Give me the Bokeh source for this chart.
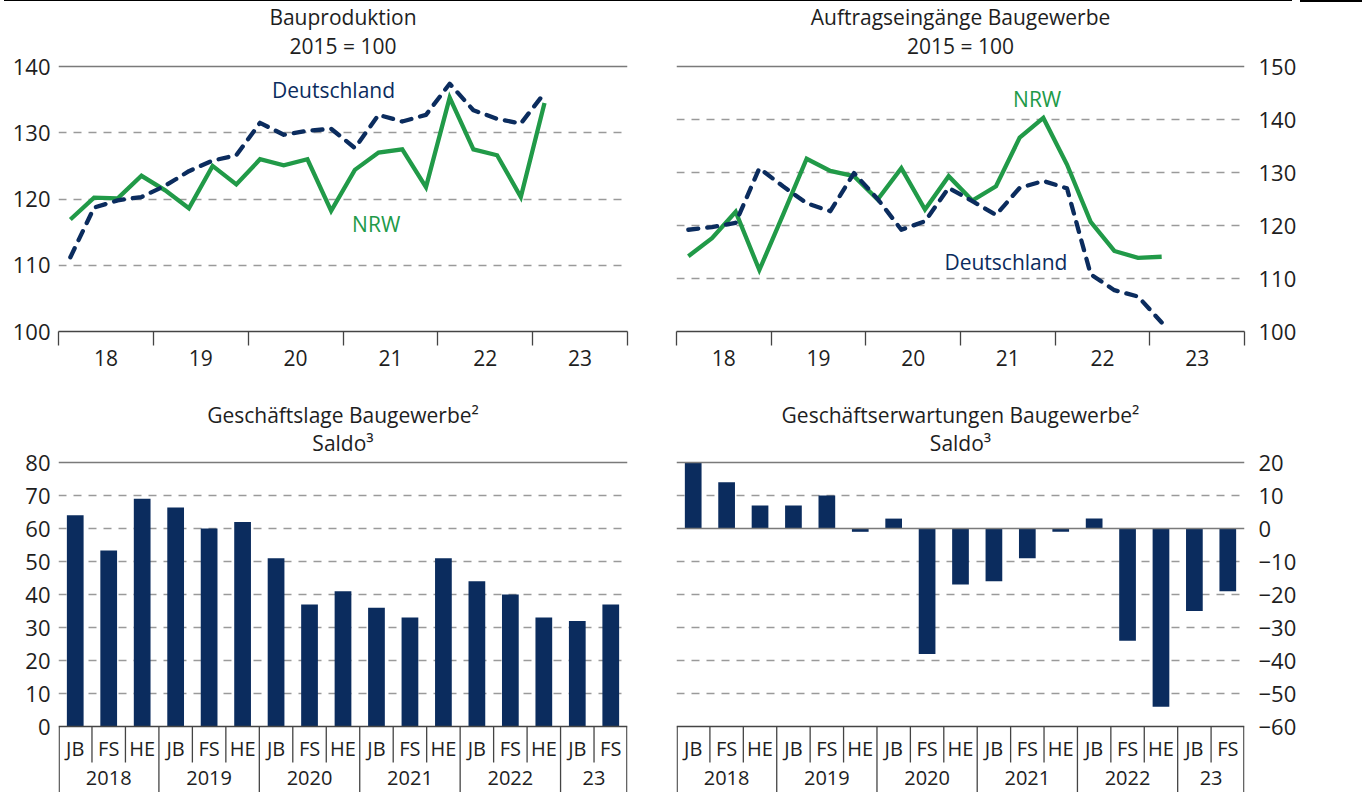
from bokeh.plotting import figure
from bokeh.models import FixedTicker, Span, Title, Div, Range1d
from bokeh.layouts import column, row
from bokeh.embed import file_html
from bokeh.resources import INLINE
from bokeh.core.properties import value

# ---------------- data ----------------
quarters = ["2018Q1", "2018Q2", "2018Q3", "2018Q4",
            "2019Q1", "2019Q2", "2019Q3", "2019Q4",
            "2020Q1", "2020Q2", "2020Q3", "2020Q4",
            "2021Q1", "2021Q2", "2021Q3", "2021Q4",
            "2022Q1", "2022Q2", "2022Q3", "2022Q4",
            "2023Q1"]
year_ticks = [18, 19, 20, 21, 22, 23]

bau_nrw = [116.9, 120.2, 120.1, 123.5, 121.3, 118.6, 125.0, 122.2, 126.0, 125.1,
           126.0, 118.2, 124.4, 127.0, 127.5, 121.8, 135.3, 127.5, 126.6, 120.3, 134.5]
bau_de = [111.2, 118.7, 119.8, 120.3, 122.0, 124.2, 125.8, 126.6, 131.5, 129.7,
          130.3, 130.6, 127.7, 132.7, 131.7, 132.7, 137.4, 133.4, 132.1, 131.4, 136.0]

auf_nrw = [114.2, 117.6, 122.6, 111.6, 122.0, 132.6, 130.3, 129.3, 124.9, 130.8,
           123.0, 129.3, 124.7, 127.4, 136.6, 140.3, 131.5, 120.7, 115.2, 113.9, 114.1]
auf_de = [119.2, 119.7, 120.5, 130.8, 127.4, 124.2, 122.7, 129.9, 125.0, 119.2,
          120.8, 127.1, 124.6, 122.0, 127.1, 128.4, 127.0, 110.8, 107.8, 106.6, 101.7]

periods = ["JB", "FS", "HE", "JB", "FS", "HE", "JB", "FS", "HE",
           "JB", "FS", "HE", "JB", "FS", "HE", "JB", "FS"]
period_years = ["2018", "2018", "2018", "2019", "2019", "2019", "2020", "2020", "2020",
                "2021", "2021", "2021", "2022", "2022", "2022", "23", "23"]

lage = [64, 53.3, 69, 66.4, 60, 62, 51, 37, 41, 36, 33, 51, 44, 40, 33, 32, 37]
erwartung = [20, 14, 7, 7, 10, -1, 3, -38, -17, -16, -9, -1, 3, -34, -54, -25, -19]

# ---------------- style ----------------
FONT = "Open Sans"
NAVY = "#0b2c5e"
GREEN = "#219a48"
TXT = "#1e1e1e"
GRID = "#9a9a9a"
SOLID = "#7a7a7a"
AX = "#444444"


def qx(q):
    yr = int(q[:4]) - 2000
    n = int(q[-1])
    return yr - 0.5 + (n - 0.5) / 4


def add_titles(p, t1, t2, s2, s1):
    p.add_layout(Title(text=t2, align="center", text_font=FONT, text_font_size="21px",
                       text_font_style="normal", text_color=TXT, standoff=s2), "above")
    top = Title(text=t1, align="center", text_font=FONT, text_font_size="21px",
                text_font_style="normal", text_color=TXT, standoff=0)
    try:
        top.standoff = s1
    except Exception:
        top.standoff = 0
    p.add_layout(top, "above")


def style_yaxis(p, side):
    ya = p.yaxis[0]
    ya.axis_line_color = None
    ya.major_tick_line_color = None
    ya.major_tick_out = 0
    ya.major_tick_in = 0
    ya.minor_tick_line_color = None
    ya.minor_tick_out = 0
    ya.major_label_text_font = FONT
    ya.major_label_text_font_size = "22px"
    ya.major_label_text_color = TXT
    ya.major_label_standoff = 8 if side == "left" else 14
    return ya


FH_TOP = 267


def line_fig(t1, t2, ylo, yhi, gridticks, side, nrw, de, de_lab, nrw_lab, left_b, right_b, fw):
    upp = (yhi - ylo) / (FH_TOP - 2.0)
    p = figure(frame_width=fw, frame_height=FH_TOP,
               x_range=Range1d(17.5, 23.5), y_range=Range1d(ylo, yhi + 2 * upp),
               output_backend="svg", toolbar_location=None, title=None,
               y_axis_location=side, min_border_left=left_b, min_border_right=right_b,
               min_border_top=62, min_border_bottom=46)
    p.outline_line_color = None
    add_titles(p, t1, t2, 9, -11)

    xa = p.xaxis[0]
    xa.ticker = FixedTicker(ticks=year_ticks,
                            minor_ticks=[v - 0.5 for v in year_ticks] + [year_ticks[-1] + 0.5])
    xa.major_tick_line_color = None
    xa.major_tick_out = 14
    xa.major_tick_in = 0
    xa.minor_tick_line_color = AX
    xa.minor_tick_line_width = 1.3
    xa.minor_tick_out = 14
    xa.minor_tick_in = 0
    xa.axis_line_color = AX
    xa.axis_line_width = 1.3
    xa.major_label_text_font = FONT
    xa.major_label_text_font_size = "21px"
    xa.major_label_text_color = TXT
    xa.major_label_standoff = 4

    ya = style_yaxis(p, side)
    ya.ticker = FixedTicker(ticks=list(range(int(ylo), int(yhi) + 1, 10)))

    p.xgrid.grid_line_color = None
    p.ygrid.ticker = FixedTicker(ticks=gridticks)
    p.ygrid.grid_line_color = GRID
    p.ygrid.grid_line_dash = "8 7"
    p.ygrid.grid_line_width = 1.3
    p.add_layout(Span(location=yhi, dimension="width", line_color=SOLID, line_width=1.3))

    xs = [qx(q) for q in quarters]
    p.line(xs, nrw, line_color=GREEN, line_width=4.3, line_join="miter")
    p.line(xs, de, line_color=NAVY, line_width=4.3, line_dash="10 9", line_cap="round",
           line_join="round")
    p.text(x=[de_lab[0]], y=[de_lab[1]], text=["Deutschland"], text_color=NAVY,
           text_font=value(FONT), text_font_size="21px", text_align="center",
           text_baseline="middle")
    p.text(x=[nrw_lab[0]], y=[nrw_lab[1]], text=["NRW"], text_color=GREEN,
           text_font=value(FONT), text_font_size="21px", text_align="center",
           text_baseline="middle")
    return p


def bar_fig(t1, t2, vals, ylo, yhi, gridticks, side, left_b, right_b, fw, spans):
    upp = (yhi - ylo) / 264.0
    ext = 66
    ystart = ylo - ext * upp
    p = figure(frame_width=fw, frame_height=264 + 2 + ext,
               x_range=Range1d(0, len(vals)), y_range=Range1d(ystart, yhi + 2 * upp),
               output_backend="svg", toolbar_location=None, title=None,
               x_axis_location=None, y_axis_location=side,
               min_border_left=left_b, min_border_right=right_b,
               min_border_top=83, min_border_bottom=0)
    p.outline_line_color = None
    add_titles(p, t1, t2, 7, -10)

    ya = style_yaxis(p, side)
    ya.ticker = FixedTicker(ticks=list(range(int(ylo), int(yhi) + 1, 10)))

    p.xgrid.grid_line_color = None
    p.ygrid.ticker = FixedTicker(ticks=gridticks)
    p.ygrid.grid_line_color = GRID
    p.ygrid.grid_line_dash = "8 7"
    p.ygrid.grid_line_width = 1.3
    for loc, col in spans:
        p.add_layout(Span(location=loc, dimension="width", line_color=col, line_width=1.3))

    xs = [i + 0.5 for i in range(len(vals))]
    p.vbar(x=xs, top=vals, bottom=0, width=0.5, fill_color=NAVY, line_color=None)

    # category table under the axis
    base = ylo
    p.add_layout(Span(location=base, dimension="width", line_color=AX, line_width=1.5))
    p.text(x=xs, y=[base] * len(xs), text=periods, y_offset=22, text_align="center",
           text_baseline="middle", text_font=value(FONT), text_font_size="20px",
           text_color=TXT)
    groups = []
    for i, yname in enumerate(period_years):
        if not groups or groups[-1][0] != yname:
            groups.append([yname, i, i + 1])
        else:
            groups[-1][2] = i + 1
    gx = [(g[1] + g[2]) / 2 for g in groups]
    p.text(x=gx, y=[base] * len(gx), text=[g[0] for g in groups], y_offset=51,
           text_align="center", text_baseline="middle", text_font=value(FONT),
           text_font_size="20px", text_color=TXT)
    starts = [g[1] for g in groups]
    inner = [i for i in range(1, len(vals)) if i not in starts]
    p.segment(x0=inner, x1=inner, y0=[base] * len(inner), y1=[base - 36 * upp] * len(inner),
              line_color=AX, line_width=1.3)
    yb = starts + [len(vals)]
    yb = [b + (0.02 if b == 0 else (-0.02 if b == len(vals) else 0)) for b in yb]
    p.segment(x0=yb, x1=yb, y0=[base] * len(yb), y1=[ystart] * len(yb),
              line_color=AX, line_width=1.3)
    return p


p1 = line_fig("Bauproduktion", "2015 = 100", 100, 140, [110, 120, 130], "left",
              bau_nrw, bau_de, (20.40, 136.4), (20.85, 116.3), 58, 31, 569)
p2 = line_fig("Auftragseingänge Baugewerbe", "2015 = 100", 100, 150, [110, 120, 130, 140], "right",
              auf_nrw, auf_de, (20.98, 113.2), (21.31, 143.8), 18, 58, 568)
p3 = bar_fig("Geschäftslage Baugewerbe²", "Saldo³", lage, 0, 80, [10, 20, 30, 40, 50, 60, 70],
             "left", 58, 31, 569, [(80, SOLID)])
p4 = bar_fig("Geschäftserwartungen Baugewerbe²", "Saldo³", erwartung, -60, 20,
             [-50, -40, -30, -20, -10, 10], "right", 18, 58, 568, [(20, SOLID), (0, SOLID)])

rule = Div(text="", width=1362, height=2, margin=0,
           styles={"background": "linear-gradient(#000,#000) 4px 0 / 1288px 1px no-repeat, "
                                 "linear-gradient(#000,#000) 1300px 0 / 62px 2px no-repeat"})

layout = column(rule, row(p1, p2), row(p3, p4))

with open("out.html", "w") as f:
    f.write(file_html(layout, INLINE))
